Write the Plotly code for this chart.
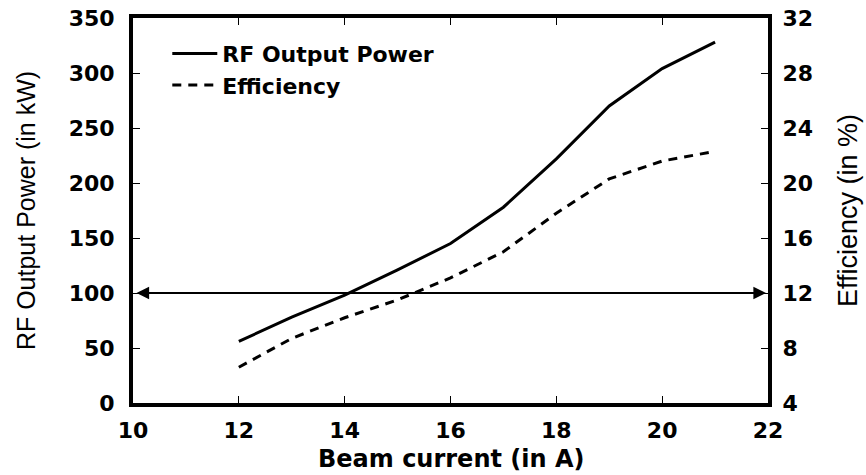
import plotly.graph_objects as go

beam_current = [12, 13, 14, 15, 16, 17, 18, 19, 20, 21]
rf_power_kw = [56, 78, 98, 121, 145, 178, 222, 270, 304, 328]
efficiency_pct = [6.6, 8.7, 10.2, 11.5, 13.1, 15.0, 17.8, 20.3, 21.6, 22.3]

x_ticks = [10, 12, 14, 16, 18, 20, 22]
y_ticks = [0, 50, 100, 150, 200, 250, 300, 350]
y2_ticks = [4, 8, 12, 16, 20, 24, 28, 32]

BOLD = "DejaVu Sans"
REG = "Liberation Sans"
tickfont = dict(family=BOLD, size=22, color="black", weight="bold")
legendfont = dict(family=BOLD, size=22, color="black", weight="bold")
xtitlefont = dict(family=BOLD, size=24, color="black", weight="bold")
ytitlefont = dict(family=REG, size=25, color="black")
y2titlefont = dict(family=REG, size=27, color="black")

fig = go.Figure()
fig.add_trace(go.Scatter(x=beam_current, y=rf_power_kw, mode="lines",
                         name="RF Output Power",
                         line=dict(color="black", width=3)))
fig.add_trace(go.Scatter(x=beam_current, y=efficiency_pct, mode="lines",
                         name="Efficiency", yaxis="y2",
                         line=dict(color="black", width=3, dash="9px,7px")))

fig.add_annotation(x=22, y=100, ax=10, ay=100, xref="x", yref="y",
                   axref="x", ayref="y", text="", showarrow=True,
                   arrowhead=2, arrowside="end+start", arrowsize=1.4,
                   arrowwidth=1.8, arrowcolor="black", standoff=2, startstandoff=2)

# x-axis title
fig.add_annotation(text="Beam current (in A)", xref="paper", yref="paper",
                   x=0.5, y=-0.145, xanchor="center", yanchor="middle",
                   showarrow=False, font=xtitlefont)

fig.update_layout(
    width=866, height=475,
    margin=dict(l=133, r=98, t=18, b=72, autoexpand=False),
    plot_bgcolor="white", paper_bgcolor="white",
    showlegend=True,
    legend=dict(x=0.054, y=0.962, xanchor="left", yanchor="top",
                bgcolor="rgba(0,0,0,0)", font=legendfont, tracegroupgap=0,
                itemwidth=45),
    xaxis=dict(range=[10, 22], tickvals=x_ticks, ticks="inside", ticklen=7,
               tickwidth=1.2, tickcolor="black", showgrid=False, zeroline=False,
               showline=True, linewidth=4, linecolor="black", mirror="ticks",
               tickfont=tickfont, ticklabelstandoff=5, automargin=False),
    yaxis=dict(range=[0, 350], tickvals=y_ticks, ticks="inside", ticklen=7,
               tickwidth=1.2, tickcolor="black", showgrid=False, zeroline=False,
               showline=True, linewidth=4, linecolor="black", automargin=False,
               tickfont=tickfont, ticklabelstandoff=10,
               title=dict(text="RF Output Power (in kW)", font=ytitlefont, standoff=27)),
    yaxis2=dict(range=[4, 32], tickvals=y2_ticks, ticks="inside", ticklen=7,
                tickwidth=1.2, tickcolor="black", showgrid=False, zeroline=False,
                showline=True, linewidth=4, linecolor="black", automargin=False,
                overlaying="y", side="right", tickfont=tickfont, ticklabelstandoff=6,
                title=dict(text="Efficiency (in %)", font=y2titlefont, standoff=27)),
)

fig.write_html("out.html")
